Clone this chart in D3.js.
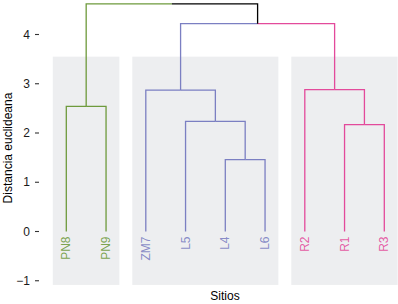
<!DOCTYPE html>
<html>
<head>
<meta charset="utf-8">
<script src="https://cdn.jsdelivr.net/npm/d3@7"></script>
<style>
  body { margin: 0; background: #fff; }
  svg { display: block; font-family: "Liberation Sans", Arial, sans-serif; }
</style>
</head>
<body>
<div id="chart"></div>
<script>
// Leaves in drawing order and their cluster
const leaves = ['PN8', 'PN9', 'ZM7', 'L5', 'L4', 'L6', 'R2', 'R1', 'R3'];
const leafGroup = ['PN', 'PN', 'L', 'L', 'L', 'L', 'R', 'R', 'R'];

// hclust-style merges: negative = leaf (1-based), positive = earlier merge
const merges = [
    [-5, -6, 1.46],
    [-8, -9, 2.17],
    [-4, 1, 2.235],
    [-1, -2, 2.54],
    [-3, 3, 2.87],
    [-7, 2, 2.88],
    [5, 6, 4.22],
    [4, 7, 4.62]
];

const groupNames = ['PN', 'L', 'R'];
const groupColors = ['#6e9a3c', '#7b7fc2', '#e34a9b'];
const yTicks = [-1, 0, 1, 2, 3, 4];

const width = 398, height = 304;
const svg = d3.select('#chart').append('svg')
    .attr('width', width)
    .attr('height', height);

const x = d3.scaleLinear().domain([1, 9]).range([66.3, 384.3]);
const y = d3.scaleLinear().domain([0, 4]).range([231.5, 34.5]);
const color = d3.scaleOrdinal().domain(groupNames).range(groupColors);

// Background boxes for each cluster
groupNames.forEach(g => {
    const idx = leafGroup.map((d, i) => d === g ? i + 1 : null).filter(d => d !== null);
    const x0 = x(d3.min(idx) - 0.34), x1 = x(d3.max(idx) + 0.335);
    svg.append('rect')
        .attr('x', x0)
        .attr('y', y(3.55))
        .attr('width', x1 - x0)
        .attr('height', y(-1.085) - y(3.55))
        .attr('fill', '#edeef0');
});

// Build node info (position, height, group)
const nodes = [];
function info(ref) {
    if (ref < 0) {
        const i = -ref;
        return { x: i, h: 0, group: leafGroup[i - 1] };
    }
    return nodes[ref - 1];
}
merges.forEach(m => {
    const a = info(m[0]), b = info(m[1]);
    const group = a.group && a.group === b.group ? a.group : null;
    nodes.push({ x: (a.x + b.x) / 2, h: m[2], group: group, a: a, b: b });
});

const g = svg.append('g')
    .attr('fill', 'none')
    .attr('stroke-width', 1.3);

// Each child draws its vertical and its half of the parent's horizontal bar
nodes.forEach(n => {
    [n.a, n.b].forEach(c => {
        const col = c.group ? color(c.group) : '#000';
        g.append('path')
            .attr('stroke', col)
            .attr('d', `M${x(c.x)},${y(c.h)}V${y(n.h)}H${x(n.x)}`);
    });
});

// Leaf labels
leaves.forEach((name, i) => {
    svg.append('text')
        .attr('transform', `translate(${x(i + 1) + 4},${y(0) + 5}) rotate(-90)`)
        .attr('text-anchor', 'end')
        .attr('font-size', 12)
        .attr('fill', color(leafGroup[i]))
        .attr('fill-opacity', 0.9)
        .text(name);
});

// Y axis (ticks and labels only)
const yAxis = svg.append('g');
yTicks.forEach(t => {
    yAxis.append('line')
        .attr('x1', 35).attr('x2', 39)
        .attr('y1', y(t)).attr('y2', y(t))
        .attr('stroke', '#333').attr('stroke-width', 1.1);
    yAxis.append('text')
        .attr('x', 30)
        .attr('y', y(t))
        .attr('dy', '0.35em')
        .attr('text-anchor', 'end')
        .attr('font-size', 12)
        .attr('fill', '#1a1a1a')
        .text(t < 0 ? '\u2212' + Math.abs(t) : t);
});

// Axis titles
svg.append('text')
    .attr('transform', `translate(12,${148}) rotate(-90)`)
    .attr('text-anchor', 'middle')
    .attr('font-size', 12)
    .attr('fill', '#000')
    .text('Distancia euclideana');

svg.append('text')
    .attr('x', 225)
    .attr('y', 300)
    .attr('text-anchor', 'middle')
    .attr('font-size', 12)
    .attr('fill', '#000')
    .text('Sitios');
</script>
</body>
</html>
